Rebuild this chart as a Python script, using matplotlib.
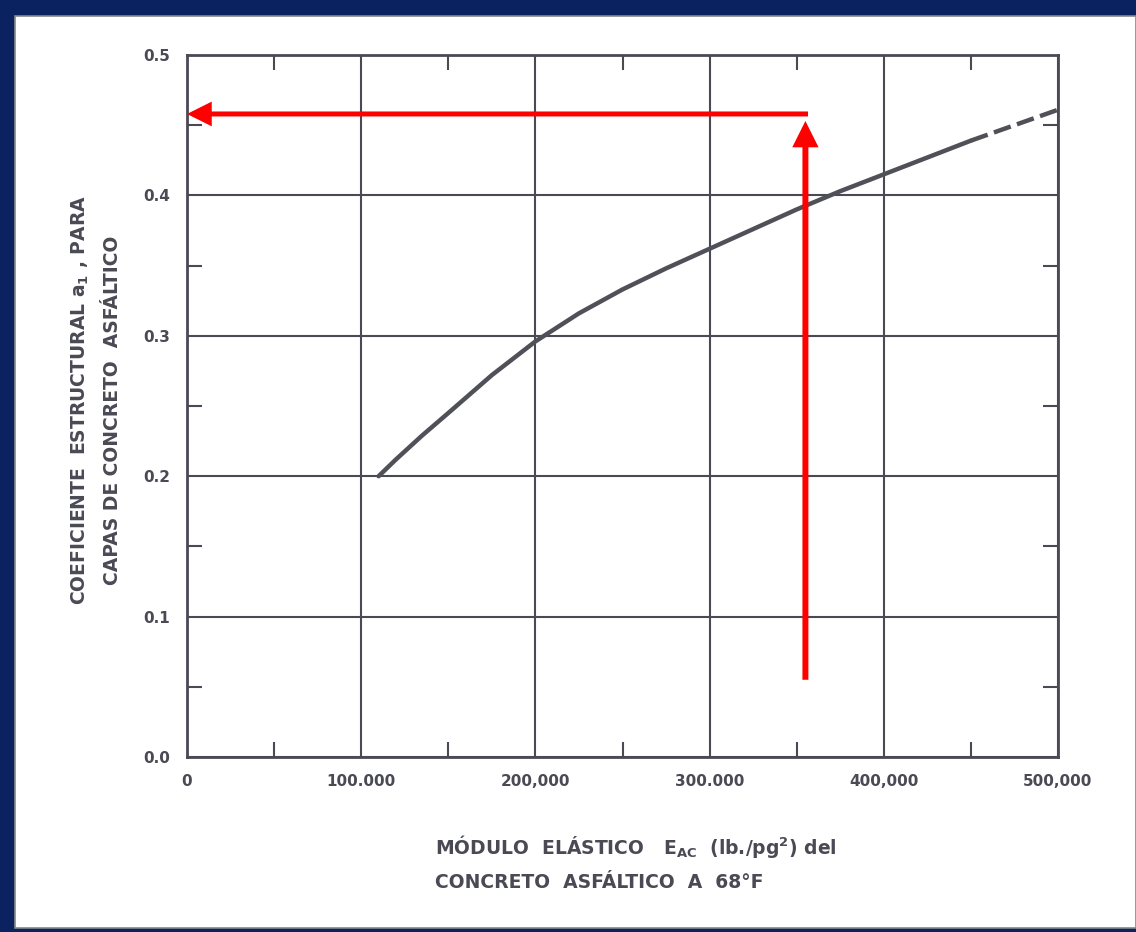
import matplotlib
matplotlib.use("Agg")
import matplotlib.pyplot as plt
from matplotlib.patches import Rectangle
import numpy as np

# curve (E_AC in lb/pg2, a1)
e_solid = [110000, 120000, 135000, 150000, 175000, 200000, 225000, 250000, 275000,
           300000, 325000, 350000, 375000, 400000, 425000, 450000]
a_solid = [0.200, 0.212, 0.229, 0.245, 0.272, 0.296, 0.316, 0.333, 0.348,
           0.362, 0.376, 0.390, 0.403, 0.415, 0.427, 0.439]
e_dash = [450000, 475000, 500000]
a_dash = [0.439, 0.450, 0.461]

# reading shown by the red arrows
e_read = 355000
a_read = 0.458
a_start = 0.055

x_ticks = [0, 100000, 200000, 300000, 400000, 500000]
x_labels = ["0", "100.000", "200,000", "300.000", "400,000", "500,000"]
y_ticks = [0.0, 0.1, 0.2, 0.3, 0.4, 0.5]
y_labels = ["0.0", "0.1", "0.2", "0.3", "0.4", "0.5"]

ink = "#4a4a55"

fig = plt.figure(figsize=(11.36, 9.32), dpi=100)
W, H = 1136, 932
# navy frame
fig.patches.append(Rectangle((0, 0), 1, 1, transform=fig.transFigure, color="#0a2260", zorder=-3))
fig.patches.append(Rectangle((15 / W, 1 - 928 / H), (W - 15) / W, (928 - 16) / H,
                             transform=fig.transFigure, facecolor="white",
                             edgecolor="#888888", lw=1.2, zorder=-2))

ax = fig.add_axes([187 / W, 1 - 757 / H, (1058 - 187) / W, (757 - 55) / H])
ax.set_facecolor("none")
ax.set_xlim(0, 500000)
ax.set_ylim(0, 0.5)

ax.set_xticks(x_ticks)
ax.set_xticklabels(x_labels)
ax.set_yticks(y_ticks)
ax.set_yticklabels(y_labels)
ax.set_xticks(np.arange(50000, 500000, 100000), minor=True)
ax.set_yticks(np.arange(0.05, 0.5, 0.1), minor=True)
ax.tick_params(which="major", length=0, pad=12, labelsize=11, labelcolor=ink)
ax.tick_params(which="minor", direction="in", length=11, width=1.5, color=ink,
               top=True, right=True)
for lab in ax.get_xticklabels() + ax.get_yticklabels():
    lab.set_fontweight("bold")
ax.grid(True, which="major", color=ink, lw=1.5)
for s in ax.spines.values():
    s.set_color(ink)
    s.set_linewidth(2)

ax.plot(e_solid, a_solid, color="#505058", lw=3.2, solid_capstyle="round")
ax.plot(e_dash, a_dash, color="#505058", lw=3.2, dashes=(4, 1.5))

# red reading arrows
arrow = dict(arrowstyle="-|>,head_length=0.6,head_width=0.3", mutation_scale=20,
             color="red", shrinkA=0, shrinkB=0, joinstyle="miter", capstyle="butt")
ax.annotate("", xy=(e_read, a_read - 0.005), xytext=(e_read, a_start),
            arrowprops=dict(arrow, lw=4.3))
ax.annotate("", xy=(0, a_read), xytext=(e_read + 1500, a_read),
            arrowprops=dict(arrow, lw=3.6), annotation_clip=False)

lab_kw = dict(color=ink, fontweight="bold", fontsize=13.5)
fig.text(80 / W, 1 - 400 / H, "COEFICIENTE  ESTRUCTURAL $\\mathregular{a_1}$ , PARA",
         rotation=90, ha="center", va="center", **lab_kw)
fig.text(113 / W, 1 - 410 / H, "CAPAS DE CONCRETO  ASFÁLTICO",
         rotation=90, ha="center", va="center", **lab_kw)
fig.text(435 / W, 1 - 846 / H, "MÓDULO  ELÁSTICO   E$\\mathregular{_{AC}}$  (lb./pg$\\mathregular{^2}$) del",
         ha="left", va="center", **lab_kw)
fig.text(435 / W, 1 - 882 / H, "CONCRETO  ASFÁLTICO  A  68°F",
         ha="left", va="center", **lab_kw)

fig.savefig("out.png", dpi=100)
